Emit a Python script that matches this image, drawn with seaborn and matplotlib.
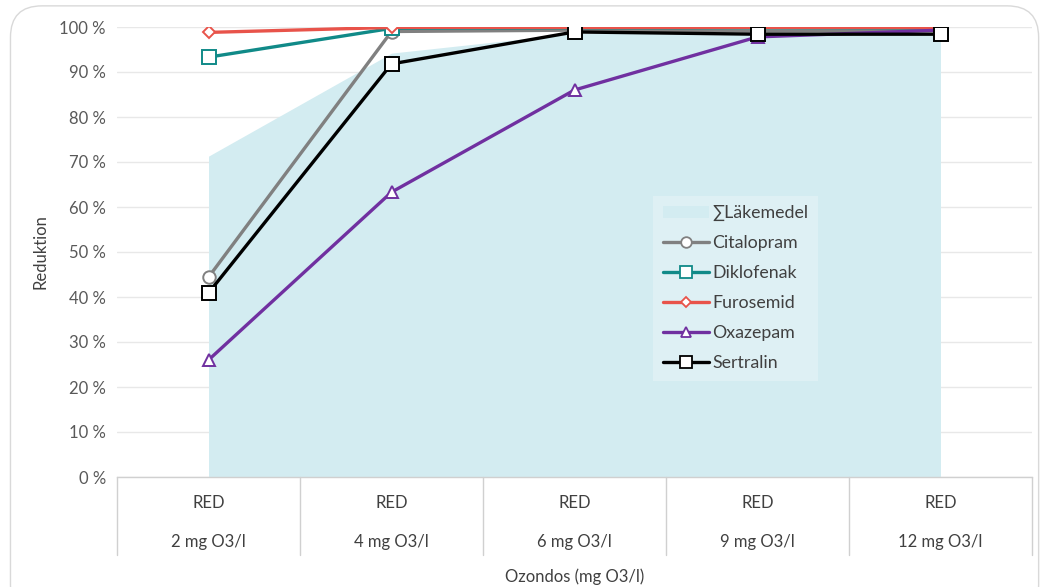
import matplotlib
matplotlib.use("Agg")
import matplotlib.pyplot as plt
from matplotlib.patches import FancyBboxPatch, Patch
from matplotlib.lines import Line2D
import seaborn as sns
import pandas as pd
import numpy as np

categories = ["2 mg O3/l", "4 mg O3/l", "6 mg O3/l", "9 mg O3/l", "12 mg O3/l"]
group_label = "RED"
lakemedel = [71.3, 94.2, 98.6, 98.5, 98.7]
citalopram = [44.4, 99.0, 99.3, 99.1, 99.2]
diklofenak = [93.3, 99.7, 99.8, 99.8, 99.8]
furosemid = [98.8, 99.9, 99.9, 99.9, 99.9]
oxazepam = [26.0, 63.3, 86.0, 97.8, 99.3]
sertralin = [40.9, 91.8, 98.9, 98.4, 98.4]
yticks = [0, 10, 20, 30, 40, 50, 60, 70, 80, 90, 100]

sns.set_theme(style="white")
plt.rcParams['font.family'] = ['Lato', 'DejaVu Sans']

fig = plt.figure(figsize=(10.47, 5.87), dpi=100)
fig.patches.append(FancyBboxPatch((0.010, -0.05), 0.982, 1.04, boxstyle="round,pad=0,rounding_size=0.03",
                                  transform=fig.transFigure, facecolor="white", edgecolor="#d9d9d9",
                                  linewidth=1.0, zorder=-10, mutation_aspect=1047/587))
ax = fig.add_axes([117/1047, 110/587, 915/1047, 450/587])
ax.set_facecolor("none")

x = np.arange(len(categories))
area_color = "#d3ecf1"
ax.fill_between(x, 0, lakemedel, color=area_color, linewidth=0, zorder=1)

series = [
    ("Citalopram", citalopram, "#808080", "o", 9),
    ("Diklofenak", diklofenak, "#108a88", "s", 10),
    ("Furosemid", furosemid, "#e8534a", "D", 6.5),
    ("Oxazepam", oxazepam, "#7030a0", "^", 8.5),
    ("Sertralin", sertralin, "#000000", "s", 10),
]
handles = [Patch(facecolor=area_color, edgecolor="none", label="∑Läkemedel")]
for i, (name, vals, col, mk, ms) in enumerate(series):
    df = pd.DataFrame({"x": x, "y": vals})
    sns.lineplot(data=df, x="x", y="y", ax=ax, color=col, linewidth=2.4, marker=mk,
                 markersize=ms, markerfacecolor="white", markeredgecolor=col,
                 markeredgewidth=1.4, zorder=3 + i)
    handles.append(Line2D([0], [0], color=col, linewidth=2.4, marker=mk, markersize=ms * 0.85,
                          markerfacecolor="white", markeredgecolor=col, markeredgewidth=1.3,
                          label=name))

ax.set_xlim(-0.5, len(categories) - 0.5)
ax.set_ylim(0, 100)
ax.set_yticks(yticks)
ax.set_yticklabels([f"{v} %" for v in yticks], color="#595959", fontsize=12)
ax.yaxis.grid(True, color="#e8e8e8", linewidth=1.0, zorder=0)
ax.set_axisbelow(True)
ax.tick_params(axis="y", length=0, pad=8)
ax.set_xticks([])
ax.set_xlabel("")
ax.set_ylabel("Reduktion", color="#404040", fontsize=12, labelpad=8)
for s in ["top", "right", "left"]:
    ax.spines[s].set_visible(False)
ax.spines["bottom"].set_color("#d0d0d0")
ax.spines["bottom"].set_linewidth(1.0)

trans = ax.get_xaxis_transform()
for b in np.arange(len(categories) + 1) - 0.5:
    ax.plot([b, b], [0, -78 / 450], transform=trans, color="#d0d0d0", linewidth=1.0, clip_on=False)
for xi, lab in zip(x, categories):
    ax.text(xi, -26 / 450, group_label, transform=trans, ha="center", va="center",
            fontsize=12, color="#404040")
    ax.text(xi, -65 / 450, lab, transform=trans, ha="center", va="center",
            fontsize=12, color="#404040")
ax.text(0.5, -100 / 450, "Ozondos (mg O3/l)", transform=ax.transAxes, ha="center", va="center",
        fontsize=12, color="#404040")

leg = ax.legend(handles=handles, loc="upper left", bbox_to_anchor=(0.576, 0.645),
                frameon=True, facecolor="white", framealpha=0.25, edgecolor="none",
                fontsize=12.8, handlelength=2.6, handletextpad=0.2, labelspacing=0.78,
                borderpad=0.55, fancybox=False)
for t in leg.get_texts():
    t.set_color("#404040")
leg.set_zorder(20)

fig.savefig("out.png", dpi=100)
